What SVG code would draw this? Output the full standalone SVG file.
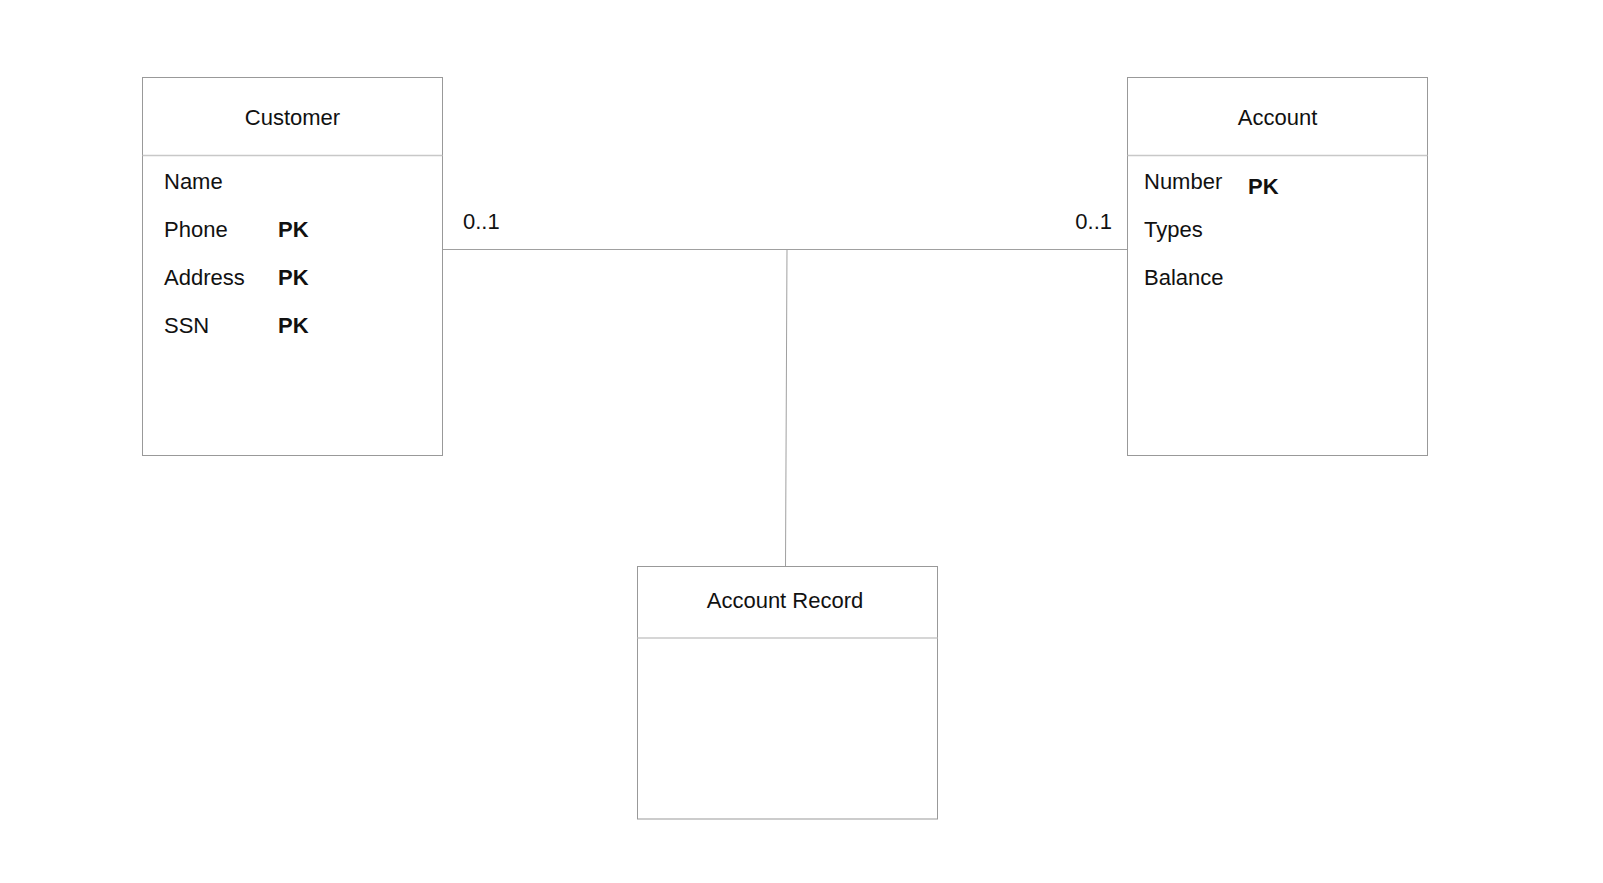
<svg xmlns="http://www.w3.org/2000/svg" width="1603" height="883" viewBox="0 0 1603 883">
<style>
.box{fill:#fff;stroke:#999;stroke-width:1}
.div{stroke:#c8c8c8;stroke-width:1.5}
.t{font-family:"Liberation Sans",Arial,sans-serif;font-size:22px;fill:#111}
.c{text-anchor:middle}
.b{font-weight:bold}
.ln{stroke:#a0a0a0;stroke-width:1;fill:none}
</style>
<rect width="1603" height="883" fill="#fff"/>
<g id="connectors">
<line class="ln" x1="442.5" y1="249.5" x2="1127.5" y2="249.5"/>
<line class="ln" x1="787" y1="249.5" x2="785.5" y2="566.5"/>
<text class="t" x="463" y="229">0..1</text>
<text class="t" x="1112" y="229" text-anchor="end">0..1</text>
</g>
<g id="customer">
<rect class="box" x="142.5" y="77.5" width="300" height="378"/>
<line class="div" x1="142.5" y1="155.5" x2="442.5" y2="155.5"/>
<text class="t c" x="292.5" y="125">Customer</text>
<text class="t" x="164" y="189">Name</text>
<text class="t" x="164" y="237">Phone</text>
<text class="t b" x="278" y="237">PK</text>
<text class="t" x="164" y="285">Address</text>
<text class="t b" x="278" y="285">PK</text>
<text class="t" x="164" y="333">SSN</text>
<text class="t b" x="278" y="333">PK</text>
</g>
<g id="account">
<rect class="box" x="1127.5" y="77.5" width="300" height="378"/>
<line class="div" x1="1127.5" y1="155.5" x2="1427.5" y2="155.5"/>
<text class="t c" x="1277.5" y="125">Account</text>
<text class="t" x="1144" y="189">Number</text>
<text class="t b" x="1248" y="194">PK</text>
<text class="t" x="1144" y="237">Types</text>
<text class="t" x="1144" y="285">Balance</text>
</g>
<g id="account-record">
<rect class="box" x="637.5" y="566.5" width="300" height="252.5"/>
<line class="div" x1="637.5" y1="638" x2="937.5" y2="638"/>
<text class="t c" x="785" y="608">Account Record</text>
</g>
</svg>
